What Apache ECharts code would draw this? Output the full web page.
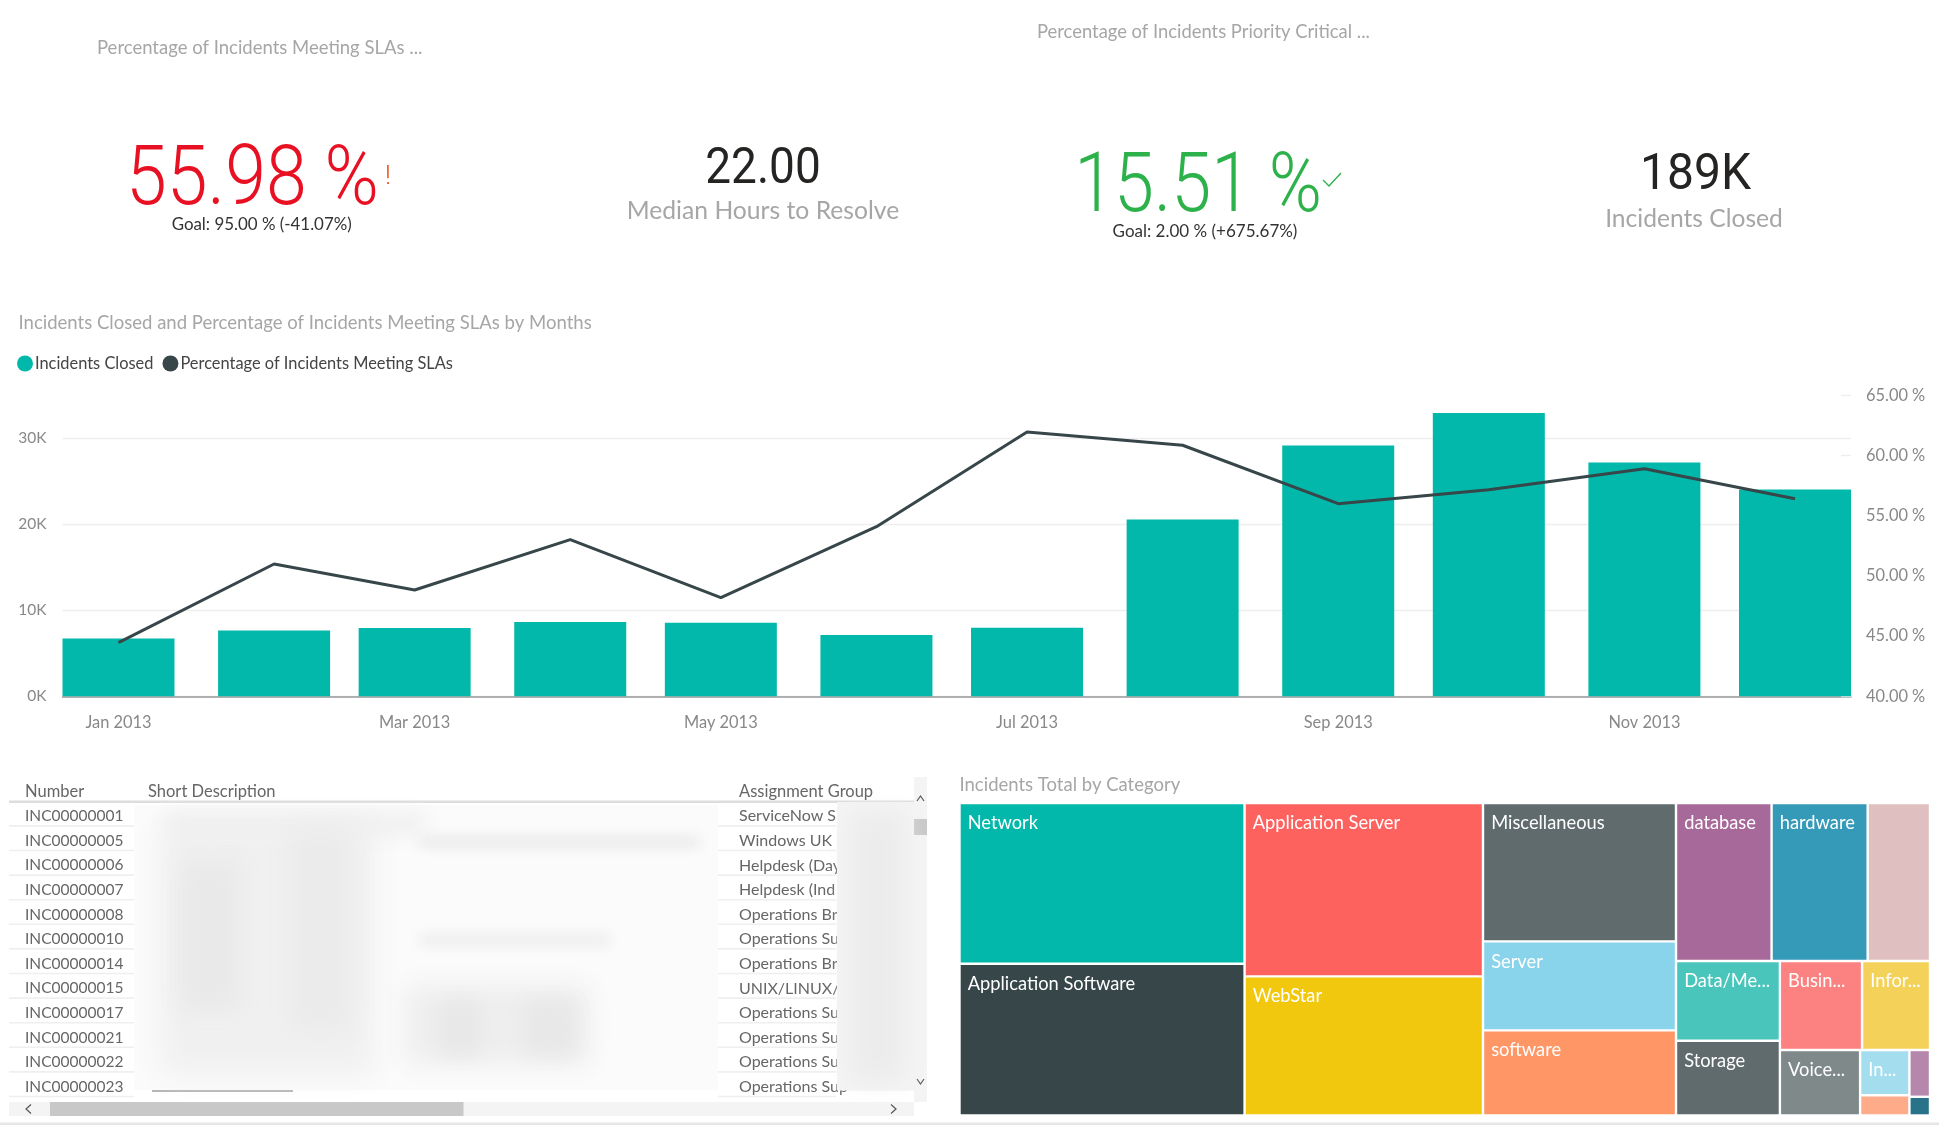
<!DOCTYPE html>
<html><head><meta charset="utf-8">
<style>html,body{margin:0;padding:0;background:#fff}#c{width:1939px;height:1125px}</style>
<script src="https://cdn.jsdelivr.net/npm/echarts@6/dist/echarts.min.js"></script>
</head><body><div id="c"></div>
<script>
// ---------- data ----------
const months = ['2013-01','2013-02','2013-03','2013-04','2013-05','2013-06','2013-07','2013-08','2013-09','2013-10','2013-11','2013-12'];
const incidentsClosed = [6730,7660,7930,8630,8550,7120,7980,20550,29150,32950,27200,24050];
const pctMeetingSla = [44.46,50.99,48.83,53.01,48.2,54.09,61.95,60.85,56.0,57.16,58.9,56.4];
const xTickMonths = ['2013-01','2013-03','2013-05','2013-07','2013-09','2013-11'];
const xTickLabels = ['Jan 2013','Mar 2013','May 2013','Jul 2013','Sep 2013','Nov 2013'];

const tileNames  = ['Network','Application Software','Application Server','WebStar','Miscellaneous','Server','software','database','hardware','','Data/Me...','Storage','Busin...','Infor...','Voice...','In...','','',''];
const tileValues = [28600,27000,25800,20700,16650,10700,10240,9400,9450,6130,5160,4830,4550,3760,3270,1390,620,600,240];
const tileColors = ['#01B8AA','#374649','#FD625E','#F2C80F','#5F6B6D','#8AD4EB','#FE9666','#A66999','#3599B8','#DFBFBF','#4AC5BB','#5F6B6D','#FB8281','#F4D25A','#7F898A','#A4DDEE','#FDAB89','#B687AC','#28738A'];
// nesting of tile indexes: gives the same tile arrangement as the source
const tileBlockA = [[0,1],[2,3]];
const tileBlockB = [4,5,6];
const tileBlockC = [[7,8,9],[[10,11],[[12,13],[14,[15,16],[17,18]]]]];

const tableNumbers = ['INC00000001','INC00000005','INC00000006','INC00000007','INC00000008','INC00000010','INC00000014','INC00000015','INC00000017','INC00000021','INC00000022','INC00000023'];
const tableGroups  = ['ServiceNow S','Windows UK S','Helpdesk (Day','Helpdesk (Ind','Operations Br','Operations Su','Operations Br','UNIX/LINUX/W','Operations Su','Operations Su','Operations Su','Operations Sup'];

// ---------- helpers ----------
const ts = m => Date.UTC(+m.slice(0,4), +m.slice(5,7)-1, 1);
const BODY = 'Lato, "Open Sans", sans-serif', KPI = 'Roboto, sans-serif';
const GREY = '#a6a6a6';
const g = [];
function txt(text, x, y, size, fill, o){ o=o||{};
  g.push({type:'text', x, y:y+1, scaleX:o.sx||1, z:o.z||10, silent:true,
    style:{text, fill, align:o.align||'left', verticalAlign:'middle', font:(o.weight||400)+' '+size+'px '+(o.family||BODY)}});
}
function rect(x,y,w,h,fill,o){ o=o||{};
  g.push({type:'rect', shape:{x,y,width:w,height:h}, z:o.z||5, silent:true, style:{fill}});
}
// a purely blurred patch: only the shadow of an off-canvas rectangle lands on the page
function soft(x,y,w,h,color,blur,z){
  g.push({type:'rect', shape:{x:x-4000,y,width:w,height:h}, z:z||7, silent:true,
    style:{fill:color,shadowColor:color,shadowBlur:blur,shadowOffsetX:4000}});
}
function line(x1,y1,x2,y2,stroke,lw,z){
  g.push({type:'line', shape:{x1,y1,x2,y2}, z:z||6, silent:true, style:{stroke,lineWidth:lw}});
}
function poly(points,stroke,lw,z){
  g.push({type:'polyline', shape:{points}, z:z||6, silent:true, style:{stroke,lineWidth:lw,fill:'none'}});
}

// KPI cards and titles
txt('Percentage of Incidents Meeting SLAs ...', 97, 47, 18.5, GREY);
txt('Percentage of Incidents Priority Critical ...', 1037, 31.5, 18.4, GREY);
txt('55.98 %', 252.5, 182, 84, '#E81123', {align:'center',family:KPI,weight:300,sx:0.875});
txt('!', 388, 176, 26, '#E8501A', {align:'center',family:KPI,weight:300});
txt('Goal: 95.00 % (-41.07%)', 261.7, 224, 16.9, '#333333', {align:'center'});
txt('22.00', 763, 169.5, 50, '#252423', {align:'center',family:KPI,weight:400,sx:0.92});
txt('Median Hours to Resolve', 763, 210.5, 24.7, GREY, {align:'center'});
txt('15.51 %', 1198, 189, 84, '#2DB24B', {align:'center',family:KPI,weight:300,sx:0.857});
poly([[1323,180],[1329,186],[1341,173]], '#2DB24B', 1.4);
txt('Goal: 2.00 % (+675.67%)', 1205, 230.5, 17, '#333333', {align:'center'});
txt('189K', 1695.5, 175.5, 50, '#252423', {align:'center',family:KPI,weight:400,sx:0.96});
txt('Incidents Closed', 1694, 218, 24.6, GREY, {align:'center'});
txt('Incidents Closed and Percentage of Incidents Meeting SLAs by Months', 18.5, 322, 18.55, GREY);
txt('Incidents Total by Category', 959.5, 784, 18.5, GREY);

// Table
txt('Number', 25, 790.7, 16.5, '#666666');
txt('Short Description', 148, 790.7, 16.5, '#666666');
txt('Assignment Group', 739, 790.7, 16.5, '#666666');
rect(9,800.5,905,2.4,'#dddddd');
tableNumbers.forEach((n,i)=>{
  const y = 815.2 + i*24.6;
  txt(n, 25, y, 15.5, '#666666');
  txt(tableGroups[i], 739, y, 16, '#666666', {z:6});
  rect(9, y+9.9, 125, 1.6, '#efefef');
  rect(718, y+9.9, 118, 1.6, '#efefef');
});
// redacted (blurred) description and group cells
rect(134.5,805,583.5,285,'#fbfbfb',{z:7});
soft(160,825,215,250,'#f0f0f0',28);
soft(165,815,260,18,'#ececec',22);
soft(420,838,280,8,'#e2e2e2',14);
soft(420,936,190,8,'#e6e6e6',14);
soft(405,985,185,80,'#eeeeee',26);
soft(440,1000,40,55,'#e8e8e8',18);
soft(525,1000,50,55,'#e8e8e8',18);
soft(180,860,60,150,'#e9e9e9',24);
soft(290,830,60,200,'#ebebeb',24);
line(152,1091,293,1091,'#9a9a9a',1.6,6);
rect(837,802,77,288.5,'#f4f4f4',{z:8});
soft(850,812,55,270,'#ececec',24,8);
// scrollbars
rect(914,777,13,325,'#f4f4f4');
rect(914,819,13,16,'#c8c8c8',{z:6});
poly([[917,801],[920.5,796],[924,801]],'#555555',1.2);
poly([[917,1079],[920.5,1084],[924,1079]],'#555555',1.2);
rect(9,1102,905,14,'#f4f4f4');
rect(50,1102,413.5,14,'#c8c8c8',{z:6});
poly([[31,1104.5],[26,1109],[31,1113.5]],'#555555',1.2);
poly([[891,1104.5],[896,1109],[891,1113.5]],'#555555',1.2);
rect(0,1122.5,1939,2.5,'#e6e6e6');

// Treemap tree from the arrays
function node(t){
  if(Array.isArray(t)) return {name:'', children:t.map(node), itemStyle:{borderWidth:0,gapWidth:0}};
  return {name:tileNames[t], value:tileValues[t],
    itemStyle:{color:tileColors[t],borderColor:'#ffffff',borderWidth:1.2},
    label:{show:tileNames[t]!==''}};
}
function treemap(block,left,width,squareRatio){
  return {type:'treemap', left, top:803, width, height:312.5, roam:false, nodeClick:false,
     breadcrumb:{show:false}, sort:false, squareRatio, visibleMin:0, childrenVisibleMin:0,
     itemStyle:{borderWidth:0,gapWidth:0},
     label:{show:true, position:[2,5], fontSize:18.3, color:'#ffffff', fontFamily:BODY, overflow:'none'},
     upperLabel:{show:false},
     data:block.map(node)};
}

const xTickTimes = xTickMonths.map(ts);
const chart = echarts.init(document.getElementById('c'), null, {renderer:'canvas'});
chart.setOption({
  animation:false, useUTC:true, backgroundColor:'#ffffff',
  textStyle:{fontFamily:BODY},
  legend:{left:12, top:350.5, icon:'circle', itemWidth:16, itemHeight:16, itemGap:9,
    textStyle:{fontSize:16.4,color:'#444444',padding:[0,0,0,-3]},
    data:['Incidents Closed','Percentage of Incidents Meeting SLAs']},
  grid:{left:62.5, width:1788.5, top:395.3, height:301, containLabel:false},
  xAxis:{type:'time', splitNumber:12,
    // the library widens this range by half a bar on each side
    min:ts(months[0]), max:ts(months[11]),
    axisLine:{lineStyle:{color:'#999999',width:1.6}}, axisTick:{show:false}, splitLine:{show:false},
    axisLabel:{margin:18, fontSize:16.4, color:'#888888', hideOverlap:false, showMinLabel:true, showMaxLabel:true,
      formatter:v=>{const i=xTickTimes.indexOf(+v); return i<0?'':xTickLabels[i];}}},
  yAxis:[
    {type:'value', min:0, max:35000, interval:10000,
     axisLine:{show:false}, axisTick:{show:false},
     splitLine:{show:true,showMaxLine:false,lineStyle:{color:'#eeeeee',width:1.4}},
     axisLabel:{showMaxLabel:false, margin:16, fontSize:15.5, color:'#888888', padding:[3,0,0,0], formatter:v=>(v/1000)+'K'}},
    {type:'value', min:40, max:65, interval:5, position:'right',
     axisLine:{show:false}, axisTick:{show:true,inside:true,length:10,lineStyle:{color:'#eeeeee',width:1.4}},
     splitLine:{show:false},
     axisLabel:{margin:15, fontSize:16.4, color:'#888888', formatter:v=>v.toFixed(2)+' %'}}
  ],
  series:[
    {name:'Incidents Closed', type:'bar', xAxisIndex:0, yAxisIndex:0, barWidth:112,
     itemStyle:{color:'#01B8AA'}, data:months.map((m,i)=>[ts(m),incidentsClosed[i]])},
    {name:'Percentage of Incidents Meeting SLAs', type:'line', xAxisIndex:0, yAxisIndex:1, symbol:'none',
     lineStyle:{color:'#374649',width:3}, itemStyle:{color:'#374649'}, z:3,
     data:months.map((m,i)=>[ts(m),pctMeetingSla[i]])},
    treemap(tileBlockA, 959.5, 523.5, 1),
    treemap(tileBlockB, 1483, 193, 1.3),
    treemap(tileBlockC, 1676, 254, 1)
  ],
  graphic:g
});
</script></body></html>
